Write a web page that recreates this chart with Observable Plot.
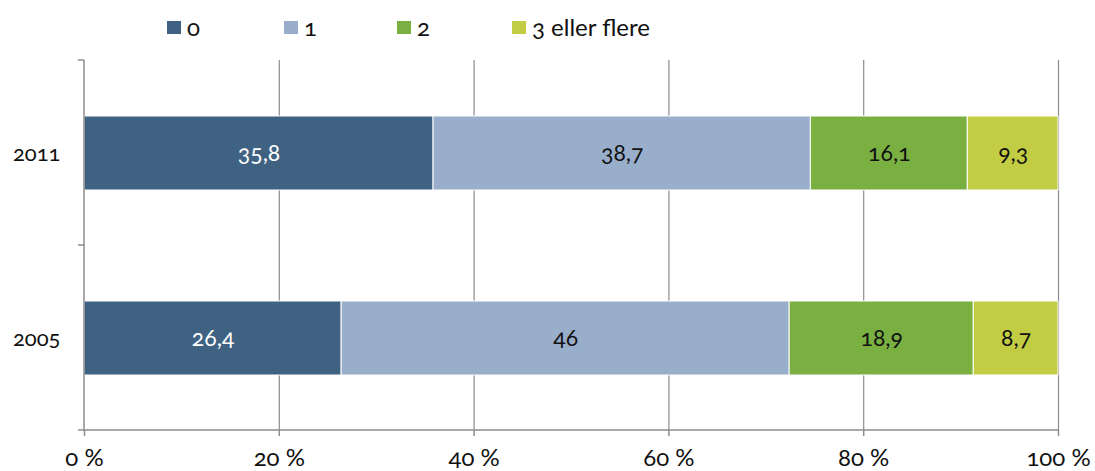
<!DOCTYPE html>
<html>
<head>
<meta charset="utf-8">
<script src="https://cdn.jsdelivr.net/npm/d3@7"></script>
<script src="https://cdn.jsdelivr.net/npm/@observablehq/plot@0.6"></script>
<style>
  body { margin: 0; background: #fff; }
  #wrap { position: relative; width: 1095px; height: 471px; font-family: Lato, "Noto Sans", sans-serif; font-variant-numeric: oldstyle-nums; }
  #legend { position: relative; height: 50px; }
  .item { position: absolute; top: 12px; display: flex; align-items: center; font-size: 24px; color: #111; }
  .sw { width: 14px; height: 13px; margin-right: 6px; margin-top: 2px; }
</style>
</head>
<body>
<div id="wrap">
  <div id="legend"></div>
  <div id="chart"></div>
</div>
<script>
const years = ["2011", "2005"];
const categories = ["0", "1", "2", "3 eller flere"];
const values2011 = [35.8, 38.7, 16.1, 9.3];
const values2005 = [26.4, 46, 18.9, 8.7];
const colors = ["#3f6282", "#98aecb", "#7aaf42", "#c3cd43"];
const xTicks = [0, 0.2, 0.4, 0.6, 0.8, 1];
const legendLefts = [167, 284, 397, 512];

const series = { "2011": values2011, "2005": values2005 };
const data = [];
for (const year of years) {
  series[year].forEach((v, i) => data.push({ year, category: categories[i], value: v }));
}

// legend
const legend = document.getElementById("legend");
categories.forEach((c, i) => {
  const it = document.createElement("div");
  it.className = "item";
  it.style.left = legendLefts[i] + "px";
  it.innerHTML = `<span class="sw" style="background:${colors[i]}"></span><span>${c}</span>`;
  legend.appendChild(it);
});

const fmt = v => String(v).replace(".", ",");
const FV = "oldstyle-nums";

function axesFrame() {
  return (index, scales, values, dimensions) => {
    const { height, marginTop, marginBottom } = dimensions;
    const g = d3.create("svg:g").attr("stroke", "#8c8c8c").attr("stroke-width", 1.5);
    const x0 = scales.x(0), x1 = scales.x(1);
    const yb = height - marginBottom;
    g.append("line").attr("x1", x0).attr("x2", x0).attr("y1", marginTop).attr("y2", yb);
    g.append("line").attr("x1", x0).attr("x2", x1).attr("y1", yb).attr("y2", yb);
    const n = years.length;
    const fh = yb - marginTop;
    for (let i = 0; i <= n; i++) {
      const yy = marginTop + (fh * i) / n;
      g.append("line").attr("x1", x0 - 6).attr("x2", x0).attr("y1", yy).attr("y2", yy);
    }
    return g.node();
  };
}

const chart = Plot.plot({
  width: 1095,
  height: 421,
  marginTop: 10,
  marginBottom: 41,
  marginLeft: 84,
  marginRight: 37,
  style: { fontFamily: "Lato, 'Noto Sans', sans-serif", fontSize: "22px", color: "#111", fontVariantNumeric: "oldstyle-nums" },
  x: { domain: [0, 1], label: null },
  y: { domain: years, paddingInner: 0.6, paddingOuter: 0.3, label: null },
  color: { domain: categories, range: colors },
  marks: [
    Plot.ruleX(xTicks.slice(1), { stroke: "#8c8c8c", strokeWidth: 1.2, strokeOpacity: 1 }),
    Plot.barX(data, Plot.stackX({ x: "value", y: "year", fill: "category", order: categories, offset: "normalize", stroke: "white", strokeWidth: 1 })),
    Plot.text(data, Plot.stackX({
      x: "value", y: "year", order: categories, offset: "normalize",
      text: d => fmt(d.value),
      fill: d => d.category === "0" ? "white" : "#111",
      fontSize: 23, fontVariant: FV
    })),
    axesFrame(),
    Plot.axisX({ ticks: xTicks, tickFormat: d => `${Math.round(d * 100)} %`, tickSize: 6, tickPadding: 12, stroke: "#8c8c8c", strokeWidth: 1.5, fontSize: 24, fill: "#111", fontVariant: FV, label: null }),
    Plot.axisY({ tickSize: 0, tickPadding: 24, fontSize: 22, fill: "#111", fontVariant: FV, label: null })
  ]
});
document.getElementById("chart").appendChild(chart);
</script>
</body>
</html>
